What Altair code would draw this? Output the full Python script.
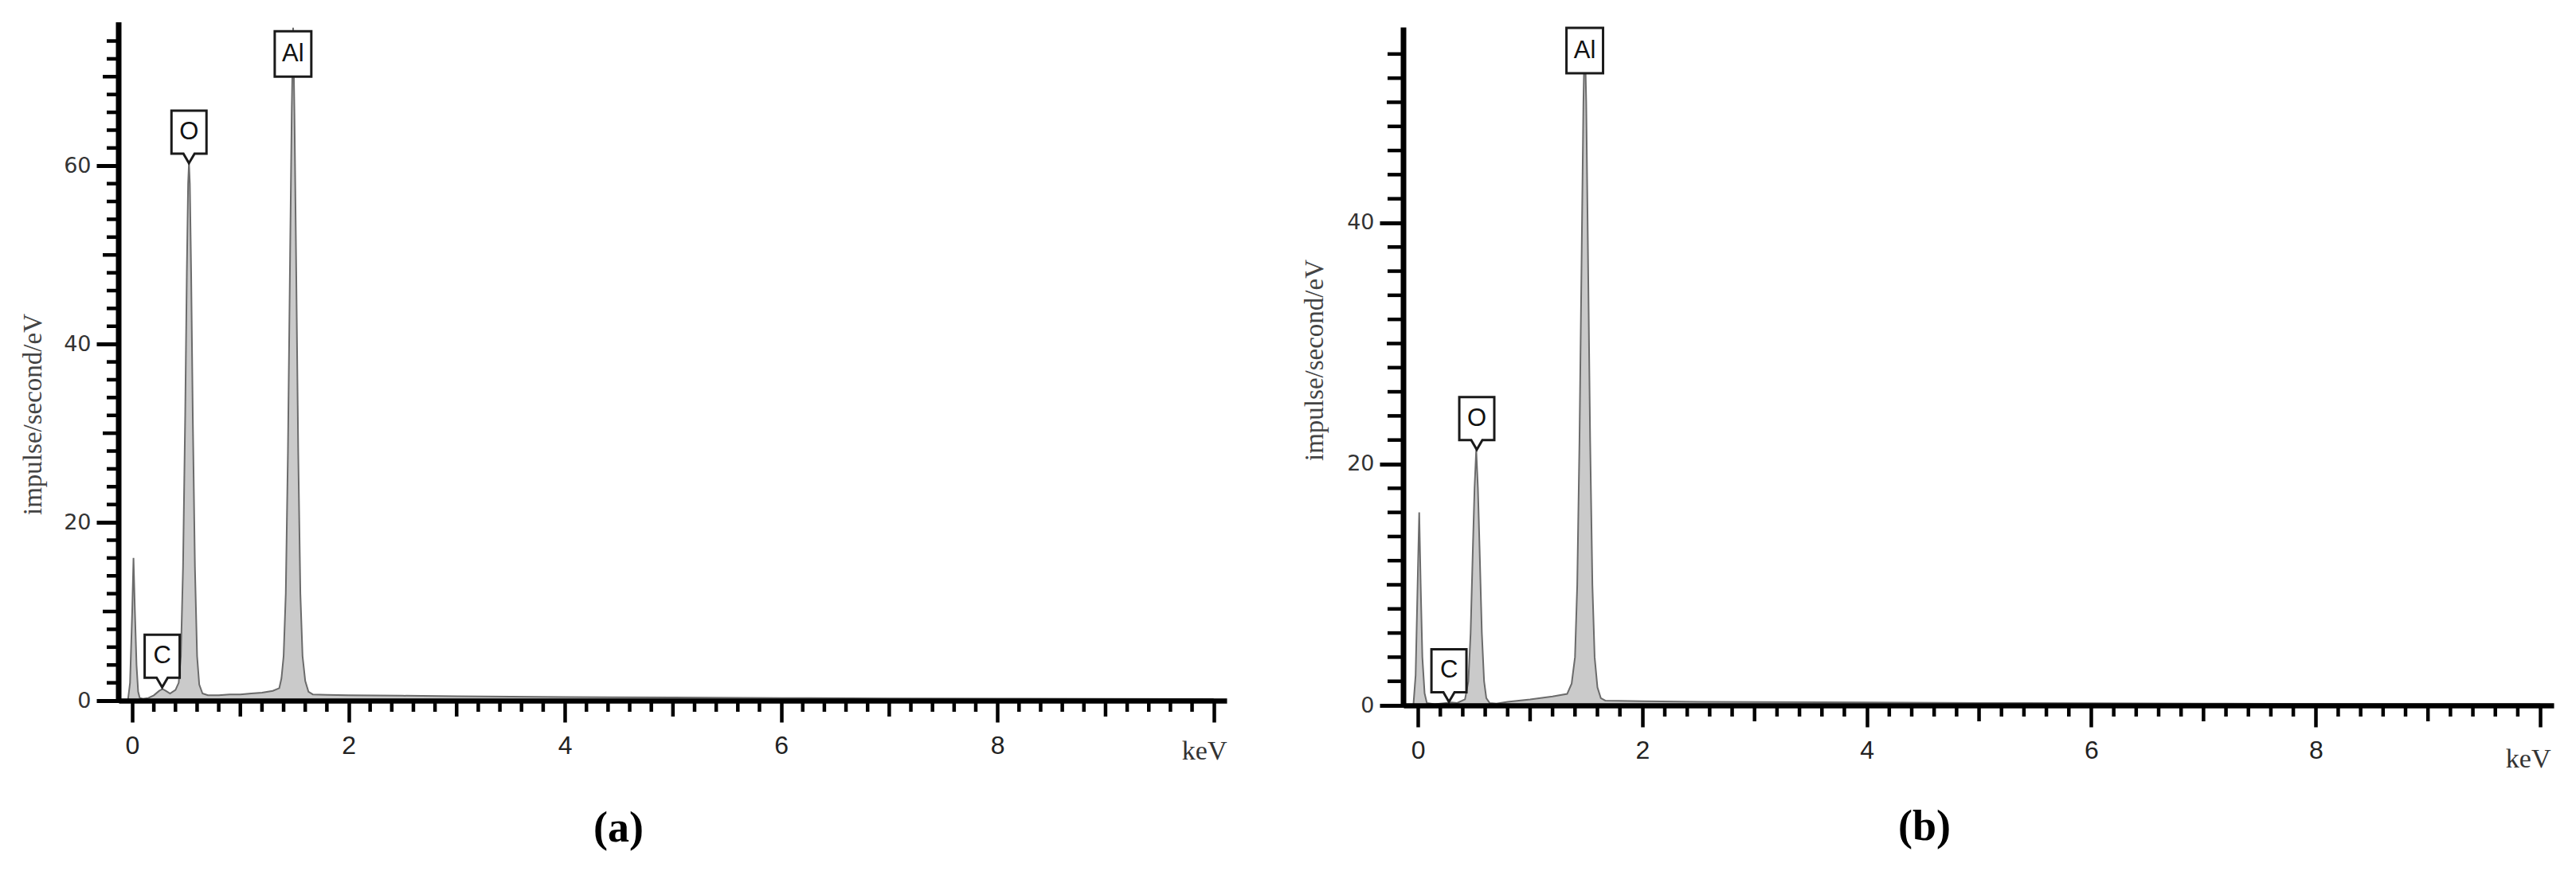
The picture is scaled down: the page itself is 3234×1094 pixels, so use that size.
import altair as alt
import pandas as pd

# ---------------- data ----------------
# Panel (a): EDS spectrum, energy (keV) vs impulse/second/eV
a_kev = [-0.04, -0.02, 0.0, 0.012, 0.025, 0.04, 0.055, 0.07, 0.10, 0.15, 0.20, 0.25, 0.28, 0.31,
         0.35, 0.40, 0.43, 0.45, 0.47, 0.49, 0.505, 0.517, 0.525, 0.533, 0.545, 0.56, 0.58, 0.60,
         0.62, 0.65, 0.70, 0.80, 0.90, 1.00, 1.10, 1.20, 1.30, 1.36, 1.38, 1.40, 1.42, 1.44, 1.46,
         1.475, 1.488, 1.50, 1.515, 1.535, 1.555, 1.575, 1.60, 1.63, 1.67, 1.80, 2.00, 2.50, 3.00,
         3.50, 4.00, 5.00, 6.00, 7.00, 8.00, 9.00, 10.00]
a_cps = [0.0, 2.0, 10.0, 16.0, 10.0, 4.0, 1.0, 0.3, 0.2, 0.3, 0.6, 1.1, 1.3, 1.1,
         0.8, 1.2, 2.0, 5.0, 15.0, 32.0, 48.0, 58.0, 60.3, 58.0, 48.0, 32.0, 15.0, 5.0,
         1.8, 0.8, 0.6, 0.6, 0.7, 0.7, 0.8, 0.9, 1.1, 1.4, 2.5, 5.0, 12.0, 28.0, 50.0,
         66.0, 75.5, 66.0, 50.0, 28.0, 12.0, 5.0, 2.2, 1.0, 0.7, 0.65, 0.6, 0.55, 0.5,
         0.45, 0.4, 0.35, 0.3, 0.25, 0.22, 0.2, 0.18]

# Panel (b)
b_kev = [-0.04, -0.02, 0.0, 0.012, 0.025, 0.04, 0.06, 0.08, 0.15, 0.25, 0.30, 0.35, 0.42,
         0.45, 0.47, 0.49, 0.505, 0.52, 0.535, 0.55, 0.57, 0.59, 0.61, 0.64, 0.70, 0.80, 1.00,
         1.20, 1.33, 1.37, 1.40, 1.42, 1.44, 1.46, 1.475, 1.487, 1.50, 1.515, 1.535, 1.555,
         1.575, 1.60, 1.63, 1.67, 2.00, 2.50, 3.00, 4.00, 5.00, 6.00, 7.00, 8.00, 9.00, 10.00]
b_cps = [0.0, 2.5, 11.0, 16.0, 10.0, 4.0, 1.0, 0.2, 0.1, 0.2, 0.25, 0.2, 0.5,
         2.0, 6.0, 13.0, 18.0, 21.2, 18.0, 13.0, 6.0, 2.0, 0.6, 0.2, 0.15, 0.3, 0.5,
         0.75, 0.95, 1.8, 4.0, 10.0, 22.0, 38.0, 50.0, 55.8, 50.0, 38.0, 22.0, 10.0,
         4.0, 1.5, 0.6, 0.4, 0.35, 0.3, 0.28, 0.25, 0.2, 0.18, 0.15, 0.12, 0.1, 0.1]

# Element labels
elements = ["C", "O", "Al"]
elem_kev = [0.277, 0.525, 1.487]
elem_kind = ["notch", "notch", "rect"]
a_label_y = [1.5, 60.3, 70.0]
b_label_y = [0.3, 21.2, 52.4]

# Axis ranges / ticks
a_y_top = 76.1
b_y_top = 56.2
x_major = [0, 2, 4, 6, 8, 10]
x_medium = [1, 3, 5, 7, 9]
x_minor = [round(i * 0.2, 1) for i in range(1, 50) if i % 5 != 0]
a_y_major = [0, 20, 40, 60]
a_y_medium = [10, 30, 50, 70]
a_y_minor = [v for v in range(2, 76, 2) if v % 10 != 0]
b_y_major = [0, 20, 40]
b_y_medium = [10, 30, 50]
b_y_minor = [v for v in range(2, 56, 2) if v % 10 != 0]

# callout shapes (unit square coordinates, tip/bottom at origin)
NOTCH = ("M0,0 L-0.106,-0.182 L-0.333,-0.182 L-0.333,-1 L0.333,-1 "
         "L0.333,-0.182 L0.106,-0.182 Z")
RECT = "M-0.348,0 L-0.348,-0.864 L0.348,-0.864 L0.348,0 Z"


def panel(kev, cps, label_y, W, H, xdom, ymax, y_top, y_major, y_medium, y_minor,
          caption, cap_offset, ytitle_x, ytitle_y, ytick_major, ytick_mid, ytick_minor,
          kev_x, kev_y):
    xs = alt.Scale(domain=xdom, nice=False, zero=False)
    ys = alt.Scale(domain=[0, ymax], nice=False, zero=False)

    spec_df = pd.DataFrame({"keV": kev, "cps": cps})
    lab_df = pd.DataFrame({"elem": elements, "keV": elem_kev, "ly": label_y, "kind": elem_kind})

    x_axis = alt.Axis(
        values=x_major, title="keV", titleFont="Liberation Serif", titleFontSize=34,
        titleFontWeight="normal", titleColor="#333333", titleAnchor="end",
        titleAlign="right", titleX=kev_x, titleY=kev_y, titleBaseline="alphabetic",
        labelFont="Liberation Sans", labelFontSize=32, labelColor="#222222",
        labelPadding=14, labelFlush=False, labelOverlap=False,
        labelExpr="datum.value == 10 ? '' : datum.label",
        tickSize=27, tickWidth=4.5, tickColor="black",
        domainColor="black", domainWidth=6.5, grid=False, zindex=1)
    y_axis = alt.Axis(
        values=y_major, title="impulse/second/eV", titleFont="Liberation Serif",
        titleFontSize=33, titleFontWeight="normal", titleColor="#444444",
        titleAngle=270, titleX=ytitle_x, titleY=ytitle_y, titleAlign="center",
        titleBaseline="middle",
        labelFont="DejaVu Sans", labelFontSize=27, labelColor="#333333",
        labelPadding=7, labelFlush=False,
        tickSize=ytick_major, tickWidth=5, tickColor="black",
        domain=False, grid=False, zindex=1)

    X = lambda f: alt.X(f, scale=xs, axis=x_axis)
    Y = lambda f: alt.Y(f, scale=ys, axis=y_axis)

    area = alt.Chart(spec_df).mark_area(
        color="#b3b3b3", line=alt.OverlayMarkDef(color="#6b6b6b", strokeWidth=2)
    ).encode(x=X("keV:Q"), y=Y("cps:Q"))

    # y-axis line, from 0 up to the axis top read in the reference
    y_line = alt.Chart(pd.DataFrame({"cps": [y_top]})).mark_rule(
        color="black", strokeWidth=7
    ).encode(y=Y("cps:Q"), y2=alt.value(H + 3), x=alt.value(0))

    xt_mid = alt.Chart(pd.DataFrame({"keV": x_medium})).mark_rule(color="black", strokeWidth=4.5).encode(
        x=X("keV:Q"), y=alt.value(H), y2=alt.value(H + 20))
    xt_min = alt.Chart(pd.DataFrame({"keV": x_minor})).mark_rule(color="black", strokeWidth=4.5).encode(
        x=X("keV:Q"), y=alt.value(H), y2=alt.value(H + 14))
    yt_mid = alt.Chart(pd.DataFrame({"cps": y_medium})).mark_rule(color="black", strokeWidth=4.5).encode(
        y=Y("cps:Q"), x=alt.value(0), x2=alt.value(-ytick_mid))
    yt_min = alt.Chart(pd.DataFrame({"cps": y_minor})).mark_rule(color="black", strokeWidth=4.5).encode(
        y=Y("cps:Q"), x=alt.value(0), x2=alt.value(-ytick_minor))

    boxes = alt.Chart(lab_df).mark_point(
        filled=True, color="white", stroke="#1a1a1a", strokeWidth=3, opacity=1, size=17424
    ).encode(
        x=X("keV:Q"),
        y=Y("ly:Q"),
        shape=alt.Shape("kind:N", scale=alt.Scale(domain=["notch", "rect"], range=[NOTCH, RECT]),
                        legend=None),
    )
    txt_notch = alt.Chart(lab_df).transform_filter("datum.kind == 'notch'").mark_text(
        font="Liberation Sans", fontSize=31, color="#111111", baseline="middle", dy=-39
    ).encode(x=X("keV:Q"), y=Y("ly:Q"), text="elem:N")
    txt_rect = alt.Chart(lab_df).transform_filter("datum.kind == 'rect'").mark_text(
        font="Liberation Sans", fontSize=31, color="#111111", baseline="middle", dy=-28
    ).encode(x=X("keV:Q"), y=Y("ly:Q"), text="elem:N")

    return alt.layer(area, xt_mid, xt_min, yt_mid, yt_min, y_line, boxes, txt_notch, txt_rect).properties(
        width=W, height=H,
        title=alt.TitleParams(caption, orient="bottom", font="Liberation Serif", fontSize=54,
                              fontWeight="bold", color="black", frame="group", dx=-68,
                              offset=cap_offset),
    )


pa = panel(a_kev, a_cps, a_label_y, 1391, 852, [-0.125, 10.12], 76.1, a_y_top,
           a_y_major, a_y_medium, a_y_minor, "(a)", 54, -108, 492, 28, 20, 15, 1391, 73)
pb = panel(b_kev, b_cps, b_label_y, 1444, 858, [-0.128, 10.12], 56.63, b_y_top,
           b_y_major, b_y_medium, b_y_minor, "(b)", 42, -112, 424, 30, 21, 20, 1440, 77)

chart = alt.hconcat(pa, pb, spacing=222, bounds="flush").properties(
    padding={"left": 17, "top": 16, "right": 5, "bottom": 5}
).configure_view(strokeWidth=0)

chart.save("out.html", embed_options={"renderer": "svg", "actions": False})
